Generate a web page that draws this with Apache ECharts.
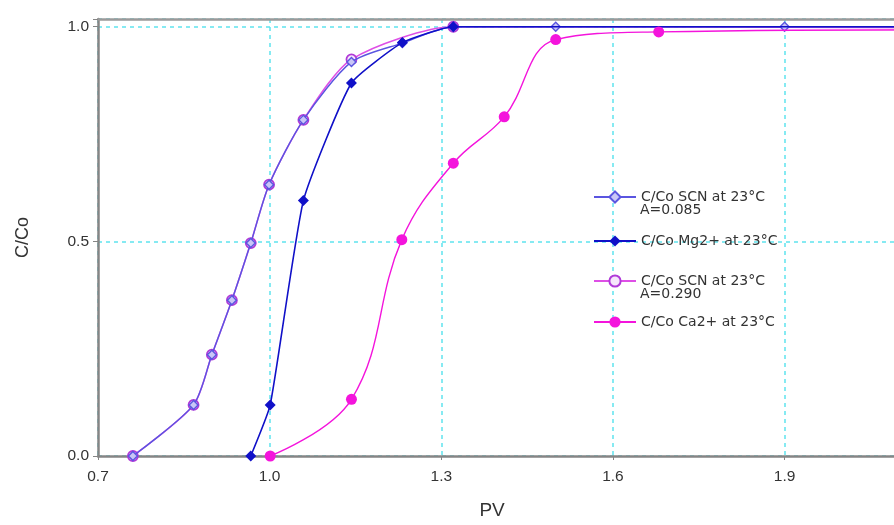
<!DOCTYPE html>
<html>
<head>
<meta charset="utf-8">
<script src="https://cdn.jsdelivr.net/npm/echarts@6/dist/echarts.min.js"></script>
<style>
  html, body { margin: 0; padding: 0; background: #ffffff; overflow: hidden; width: 894px; height: 525px; }
  /* the plotting canvas is wider than the page, so the PV axis runs off the right edge */
  #chart { width: 970px; height: 525px; }
</style>
</head>
<body>
<div id="chart"></div>
<script>
// Breakthrough curves: relative concentration C/Co versus pore volumes (PV)
const seriesNames = [
  'C/Co SCN at 23°C A=0.085',
  'C/Co Mg2+ at 23°C',
  'C/Co SCN at 23°C A=0.290',
  'C/Co Ca2+ at 23°C'
];
const legendLabels = ['C/Co SCN at 23°C', 'C/Co Mg2+ at 23°C', 'C/Co SCN at 23°C', 'C/Co Ca2+ at 23°C'];
const legendSubLabels = ['A=0.085', '', 'A=0.290', ''];

// SCN tracer, A = 0.085
const pvScnA085 = [0.761, 0.867, 0.899, 0.934, 0.967, 0.999, 1.059, 1.143, 1.232, 1.321, 1.5, 1.9, 2.2];
const ccScnA085 = [0.0, 0.119, 0.236, 0.363, 0.496, 0.632, 0.783, 0.918, 0.962, 1.0, 1.0, 1.0, 1.0];

// Mg2+
const pvMg = [0.967, 1.001, 1.059, 1.143, 1.232, 1.321, 2.2];
const ccMg = [0.0, 0.119, 0.595, 0.869, 0.963, 1.0, 1.0];

// SCN tracer, A = 0.290
const pvScnA290 = [0.761, 0.867, 0.899, 0.934, 0.967, 0.999, 1.059, 1.143, 1.321, 2.2];
const ccScnA290 = [0.0, 0.119, 0.236, 0.363, 0.496, 0.632, 0.783, 0.924, 1.0, 0.998];

// Ca2+
const pvCa = [1.001, 1.143, 1.231, 1.321, 1.41, 1.5, 1.68, 2.2];
const ccCa = [0.0, 0.132, 0.504, 0.682, 0.79, 0.97, 0.988, 0.993];

// Axis ranges and tick steps
const xMin = 0.7, xMax = 2.2, xStep = 0.3;
const yMin = 0.0, yMax = 1.018, yStep = 0.5;

const pairs = (xs, ys) => xs.map((x, i) => [x, ys[i]]);

const FONT = 'Liberation Sans, Arial, sans-serif';
const LEGEND_FONT = 'DejaVu Sans, sans-serif';
const colScnA085 = '#5a55e0';
const colMg = '#1010c8';
const colScnA290 = '#de4fe6';
const colCa = '#f414dc';

const chart = echarts.init(document.getElementById('chart'), null, { renderer: 'canvas' });

const gridLine = { show: true, lineStyle: { color: '#5fe3ee', width: 1.5, type: [4, 4] } };
const onStep = (v, step) => Math.abs(v / step - Math.round(v / step)) < 1e-6;

const legendCenters = [197, 241, 281, 322];
const legends = seriesNames.map((name, i) => ({
  data: [name],
  orient: 'vertical',
  left: 593,
  top: legendCenters[i] - 7,
  padding: 0,
  itemWidth: 42,
  itemHeight: 14,
  selectedMode: false,
  formatter: () => legendLabels[i],
  textStyle: { fontFamily: LEGEND_FONT, fontSize: 14, color: '#333333' }
}));

const subTexts = legendSubLabels.map((t, i) => t ? {
  type: 'text',
  left: 640,
  top: legendCenters[i] + 6,
  style: { text: t, fontFamily: LEGEND_FONT, fontSize: 14, fill: '#333333' }
} : null).filter(Boolean);

chart.setOption({
  animation: false,
  backgroundColor: '#ffffff',
  grid: { left: 98, right: 0, top: 19, bottom: 68, containLabel: false },
  legend: legends,
  graphic: subTexts,
  xAxis: [{
    type: 'value',
    min: xMin, max: xMax, interval: xStep,
    name: 'PV',
    nameLocation: 'middle',
    nameGap: 45,
    nameTextStyle: { fontFamily: FONT, fontSize: 19, color: '#333333', padding: [0, 70, 0, 0] },
    axisLine: { show: true, onZero: false, lineStyle: { color: '#858585', width: 2.5 } },
    axisTick: { show: true, length: 4, lineStyle: { color: '#858585', width: 1 } },
    axisLabel: {
      fontFamily: FONT, fontSize: 15.5, color: '#333333', margin: 13,
      formatter: v => v.toFixed(1)
    },
    splitLine: gridLine
  }, {
    type: 'value',
    position: 'top',
    min: xMin, max: xMax,
    axisLine: { show: true, onZero: false, lineStyle: { color: '#9a9a9a', width: 2.5 } },
    axisTick: { show: false },
    axisLabel: { show: false },
    splitLine: { show: false }
  }],
  yAxis: {
    type: 'value',
    min: yMin, max: yMax, interval: yStep,
    name: 'C/Co',
    nameLocation: 'middle',
    nameGap: 66,
    nameRotate: 90,
    nameTextStyle: { fontFamily: FONT, fontSize: 18, color: '#333333' },
    axisLine: { show: true, onZero: false, lineStyle: { color: '#858585', width: 2.5 } },
    axisTick: { show: true, length: 5, lineStyle: { color: '#858585', width: 1 } },
    axisLabel: {
      fontFamily: FONT, fontSize: 15.5, color: '#333333', margin: 9,
      formatter: v => onStep(v, yStep) ? v.toFixed(1) : ''
    },
    splitLine: gridLine
  },
  series: [
    {
      name: seriesNames[2],
      type: 'line',
      data: pairs(pvScnA290, ccScnA290),
      smooth: 0.25,
      symbol: 'circle',
      symbolSize: 10,
      z: 2,
      lineStyle: { color: colScnA290, width: 1.6 },
      itemStyle: { color: '#f6e6fb', borderColor: '#b03ad8', borderWidth: 1.8 }
    },
    {
      name: seriesNames[0],
      type: 'line',
      data: pairs(pvScnA085, ccScnA085),
      smooth: 0.25,
      symbol: 'diamond',
      symbolSize: 9,
      z: 3,
      lineStyle: { color: colScnA085, width: 1.4 },
      itemStyle: { color: '#c9c6f6', borderColor: colScnA085, borderWidth: 1.4 }
    },
    {
      name: seriesNames[1],
      type: 'line',
      data: pairs(pvMg, ccMg),
      smooth: 0.15,
      symbol: 'diamond',
      symbolSize: 11,
      z: 4,
      lineStyle: { color: colMg, width: 1.6 },
      itemStyle: { color: colMg, borderColor: colMg, borderWidth: 0 }
    },
    {
      name: seriesNames[3],
      type: 'line',
      data: pairs(pvCa, ccCa),
      smooth: 0.4,
      symbol: 'circle',
      symbolSize: 11,
      z: 5,
      lineStyle: { color: colCa, width: 1.4 },
      itemStyle: { color: colCa, borderColor: colCa, borderWidth: 0 }
    }
  ]
});
</script>
</body>
</html>
